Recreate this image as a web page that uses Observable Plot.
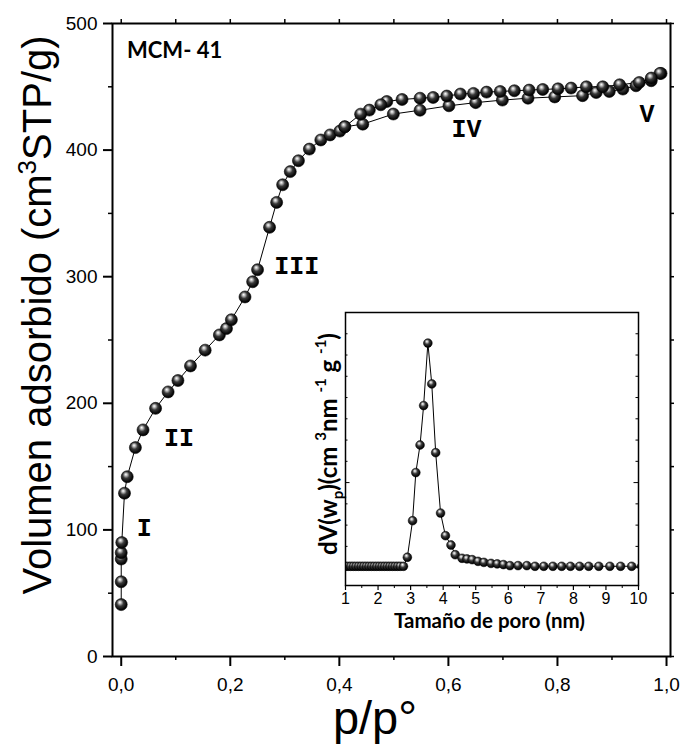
<!DOCTYPE html>
<html><head><meta charset="utf-8">
<script src="https://cdn.jsdelivr.net/npm/d3@7"></script>
<script src="https://cdn.jsdelivr.net/npm/@observablehq/plot@0.6"></script>
<style>
html,body{margin:0;padding:0;background:#fff;}
#wrap{position:relative;width:680px;height:744px;overflow:hidden;background:#fff;}
#inset{position:absolute;left:315px;top:308px;}
#main [aria-label^="x-axis"] text,#main [aria-label^="y-axis"] text{font-size:19px;font-family:'Liberation Sans',Arial,sans-serif;}
#inset [aria-label^="x-axis"] text{font-size:16px;font-family:'Liberation Sans',Arial,sans-serif;}
</style></head><body><div id="wrap"><div id="main"></div><div id="inset"></div></div>
<script>
// ---------- Main isotherm (p/p°, volume adsorbed cm3 STP/g) ----------
const adsP = [0.000,0.000,0.000,0.000,0.001,0.006,0.011,0.026,0.040,0.063,0.086,0.104,0.127,0.154,0.180,0.193,0.202,0.227,0.241,0.250,0.272,0.285,0.296,0.310,0.325,0.345,0.366,0.383,0.401,0.410,0.443,0.499,0.548,0.601,0.650,0.699,0.746,0.795,0.846,0.871,0.895,0.920,0.944,0.972,0.990];
const adsV = [41,59,77,82,90,129,142,165,179,196,209,218,229.5,242,254,259,266,284,296,305.5,339,358.7,372.6,383,391.6,400.8,408,412,415,418.4,420.5,428.5,431.5,435,437.5,439.5,441,442,443,445.5,446.3,448.2,450.8,454.8,460.6];
const desP = [0.988,0.972,0.950,0.914,0.883,0.853,0.825,0.801,0.773,0.748,0.721,0.695,0.670,0.646,0.622,0.597,0.572,0.548,0.515,0.487,0.476,0.455,0.439,0.410];
const desV = [460.6,456.9,453.4,451.6,450,450,449,448.4,447.9,447.4,446.9,446.3,445.8,444.8,444.3,442.7,441.6,441,440,438.4,435.8,431.6,428.4,418.4];

const xTicks = [0,0.2,0.4,0.6,0.8,1.0];
const yTicks = [0,100,200,300,400,500];
const xMinorBottom = [0.1,0.3,0.5,0.7,0.9];
const xMinorTop = [0,0.1,0.2,0.3,0.4,0.5,0.6,0.7,0.8,0.9,1.0];
const yMinorLeft = [50,150,250,350,450];
const yMinorRight = [0,50,100,150,200,250,300,350,400,450,500];

const romanText = ["I","II","III","IV","V"];
const romanP = [0.042,0.106,0.322,0.633,0.964];
const romanV = [101.8,172.9,308.5,416.3,428.2];

// ---------- Inset: pore size distribution ----------
const poreSize = [1.00,1.08,1.16,1.24,1.32,1.40,1.48,1.56,1.64,1.72,1.80,1.88,1.96,2.04,2.12,2.20,2.28,2.36,2.44,2.52,2.60,2.68,2.78,2.90,3.06,3.16,3.29,3.40,3.53,3.65,3.77,3.92,4.07,4.24,4.37,4.58,4.73,4.89,5.07,5.25,5.47,5.66,5.85,6.05,6.30,6.57,6.82,7.09,7.37,7.64,7.91,8.19,8.47,8.78,9.12,9.45,9.79,10.1];
const poreDist = [0.508,0.508,0.508,0.508,0.508,0.508,0.508,0.508,0.508,0.508,0.508,0.508,0.508,0.508,0.508,0.508,0.508,0.508,0.508,0.508,0.508,0.508,0.508,0.561,0.776,1.059,1.221,1.453,1.820,1.580,1.176,0.821,0.688,0.633,0.576,0.555,0.551,0.547,0.537,0.531,0.525,0.522,0.518,0.512,0.512,0.512,0.508,0.508,0.508,0.508,0.508,0.508,0.508,0.508,0.508,0.508,0.508,0.508];
const insetXTicks = [1,2,3,4,5,6,7,8,9,10];
const insetXMinor = [1.5,2.5,3.5,4.5,5.5,6.5,7.5,8.5,9.5];
const insetYMinor = [0.5,0.625,0.75,0.875,1.125,1.25,1.375,1.5,1.625,1.75,1.875];
const insetYMajor = [1.0];

// ---------- tables ----------
const ads = adsP.map((p,i)=>({p, v: adsV[i]}));
const des = desP.map((p,i)=>({p, v: desV[i]}));
const roman = romanText.map((t,i)=>({t, p: romanP[i], v: romanV[i]}));
const pore = poreSize.map((s,i)=>({s, d: poreDist[i]}));

const W=680,H=744,mL=112,mR=10,mT=23,mB=88;
const xDom=[-0.016,1.0073], yDom=[0,500];
const pxX=(W-mL-mR)/(xDom[1]-xDom[0]);
const pxY=(H-mT-mB)/(yDom[1]-yDom[0]);
const mLen=4;
const ballFill="url(#ball)";

const main = Plot.plot({
  width:W,height:H,marginLeft:mL,marginRight:mR,marginTop:mT,marginBottom:mB,
  style:{fontFamily:"'Liberation Sans',Arial,sans-serif",fontSize:"19px",background:"transparent",color:"#000",overflow:"visible"},
  x:{domain:xDom,ticks:xTicks,tickFormat:d=>d.toFixed(1).replace(".",","),tickSize:10,tickPadding:11,label:null},
  y:{domain:yDom,ticks:yTicks,tickSize:9,tickPadding:6,label:null},
  marks:[
    Plot.ruleX(xMinorBottom,{x:d=>d,y1:yDom[0],y2:yDom[0]-mLen/pxY,stroke:"#000",strokeWidth:1.5}),
    Plot.ruleX(xMinorTop,{x:d=>d,y1:yDom[1],y2:yDom[1]+mLen/pxY,stroke:"#000",strokeWidth:1.5}),
    Plot.ruleY(yMinorLeft,{y:d=>d,x1:xDom[0],x2:xDom[0]-mLen/pxX,stroke:"#000",strokeWidth:1.5}),
    Plot.ruleY(yMinorRight,{y:d=>d,x1:xDom[1],x2:xDom[1]+mLen/pxX,stroke:"#000",strokeWidth:1.5}),
    Plot.frame({stroke:"#000",strokeWidth:2}),
    Plot.line(ads,{x:"p",y:"v",stroke:"#000",strokeWidth:1}),
    Plot.line(des,{x:"p",y:"v",stroke:"#000",strokeWidth:1}),
    Plot.dot(ads,{x:"p",y:"v",r:6,fill:ballFill,stroke:"#000",strokeWidth:0.6}),
    Plot.dot(des,{x:"p",y:"v",r:6,fill:ballFill,stroke:"#000",strokeWidth:0.6}),
    Plot.text(roman,{x:"p",y:"v",text:"t",fontFamily:"'Liberation Mono','Courier New',monospace",fontWeight:"bold",fontSize:25,fill:"#000"})
  ]
});
document.getElementById("main").appendChild(main);

const msvg = d3.select(main.tagName.toLowerCase()==="svg" ? main : main.querySelector("svg"));
msvg.insert("defs",":first-child").html(
 '<radialGradient id="ball" cx="0.45" cy="0.42" r="0.62" fx="0.38" fy="0.3">'+
 '<stop offset="0" stop-color="#ffffff"/><stop offset="0.18" stop-color="#bdbdbd"/>'+
 '<stop offset="0.45" stop-color="#3a3a3a"/><stop offset="0.8" stop-color="#0a0a0a"/><stop offset="1" stop-color="#000"/></radialGradient>');
msvg.selectAll('[aria-label^="x-axis"] line,[aria-label^="y-axis"] line,[aria-label="x-axis tick"] path,[aria-label="y-axis tick"] path').attr("stroke-width",2);

msvg.append("text").attr("x",127).attr("y",58).attr("text-anchor","start")
  .attr("font-family","Lato,'Open Sans',sans-serif").attr("font-weight","bold").attr("font-size",22).attr("fill","#000")
  .text("MCM- 41");
const yl = msvg.append("text").attr("transform","translate(51,315) rotate(-90)").attr("text-anchor","middle")
  .attr("font-family","'Liberation Sans',Arial,sans-serif").attr("font-size",40).attr("fill","#000");
yl.append("tspan").text("Volumen adsorbido (cm");
yl.append("tspan").attr("font-size",26).attr("dy",-15).text("3");
yl.append("tspan").attr("dy",15).text("STP/g)");
msvg.append("text").attr("x",375).attr("y",734).attr("text-anchor","middle")
  .attr("font-family","'Liberation Sans',Arial,sans-serif").attr("font-size",47).attr("fill","#000").text("p/p°");

// ---------- inset ----------
const iL=30,iR=4,iT=4,iB=52,iInW=293,iInH=273;
const ixDom=[1,10], iyDom=[0.395,2.0];
const ipxX=iInW/(ixDom[1]-ixDom[0]), ipxY=iInH/(iyDom[1]-iyDom[0]);
const inset = Plot.plot({
  width:iL+iInW+iR,height:iT+iInH+iB,marginLeft:iL,marginRight:iR,marginTop:iT,marginBottom:iB,
  style:{fontFamily:"'Liberation Sans',Arial,sans-serif",fontSize:"16px",background:"transparent",color:"#000",overflow:"visible"},
  x:{domain:ixDom,ticks:insetXTicks,tickFormat:d=>String(d),tickSize:5,tickPadding:2,label:null},
  y:{domain:iyDom,axis:null},
  marks:[
    Plot.frame({fill:"#fff",stroke:"none"}),
    Plot.ruleX(insetXMinor,{x:d=>d,y1:iyDom[0],y2:iyDom[0]-3/ipxY,stroke:"#000",strokeWidth:1}),
    Plot.ruleY(insetYMinor,{y:d=>d,x1:ixDom[0],x2:ixDom[0]+2.5/ipxX,stroke:"#000",strokeWidth:1}),
    Plot.ruleY(insetYMajor,{y:d=>d,x1:ixDom[0],x2:ixDom[0]+4.5/ipxX,stroke:"#000",strokeWidth:1}),
    Plot.ruleY(insetYMinor,{y:d=>d,x1:ixDom[1],x2:ixDom[1]-2.5/ipxX,stroke:"#000",strokeWidth:1}),
    Plot.ruleY(insetYMajor,{y:d=>d,x1:ixDom[1],x2:ixDom[1]-4.5/ipxX,stroke:"#000",strokeWidth:1}),
    Plot.line(pore,{x:"s",y:"d",stroke:"#000",strokeWidth:1,clip:true}),
    Plot.dot(pore,{x:"s",y:"d",r:4.4,fill:ballFill,stroke:"#000",strokeWidth:0.5,clip:true}),
    Plot.frame({stroke:"#000",strokeWidth:1.5})
  ]
});
document.getElementById("inset").appendChild(inset);
const isvg = d3.select(inset.tagName.toLowerCase()==="svg" ? inset : inset.querySelector("svg"));
isvg.selectAll('[aria-label^="x-axis"] line,[aria-label="x-axis tick"] path').attr("stroke-width",1.2);

const il = isvg.append("text").attr("transform","translate(22,136) rotate(-90)").attr("text-anchor","middle")
  .attr("font-family","Lato,'Open Sans',sans-serif").attr("font-weight","bold").attr("font-size",24).attr("fill","#000");
il.append("tspan").text("dV(w");
il.append("tspan").attr("font-size",15).attr("dy",6).text("p");
il.append("tspan").attr("dy",-6).text(")(cm ");
il.append("tspan").attr("font-size",15).attr("dy",-11).text("3");
il.append("tspan").attr("dy",11).text("nm ");
il.append("tspan").attr("font-size",15).attr("dy",-11).text("-1");
il.append("tspan").attr("dy",11).text(" g ");
il.append("tspan").attr("font-size",15).attr("dy",-11).text("-1");
il.append("tspan").attr("dy",11).text(")");
isvg.append("text").attr("x",174.5).attr("y",320).attr("text-anchor","middle")
  .attr("font-family","Lato,'Open Sans',sans-serif").attr("font-weight","bold").attr("font-size",20.5).attr("fill","#000")
  .text("Tamaño de poro (nm)");
</script></body></html>
